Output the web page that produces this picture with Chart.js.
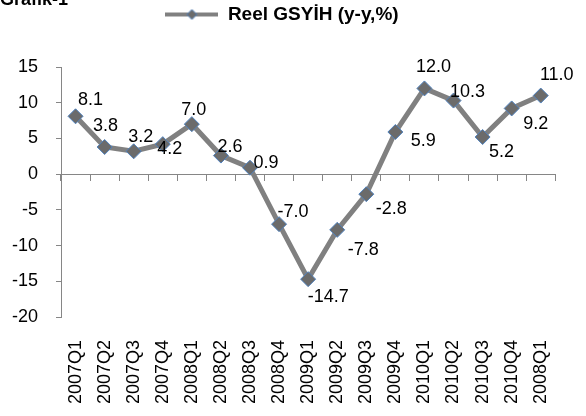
<!DOCTYPE html>
<html>
<head>
<meta charset="utf-8">
<title>Grafik-1</title>
<script src="https://cdn.jsdelivr.net/npm/chart.js@4/dist/chart.umd.min.js"></script>
<style>
  html, body { margin: 0; padding: 0; background: #fff; }
  #wrap { width: 586px; height: 416px; }
</style>
</head>
<body>
<div id="wrap"><canvas id="gdpChart" width="586" height="416"></canvas></div>
<script>
// quarters and real GDP growth (y-y, %)
const quarters = ['2007Q1', '2007Q2', '2007Q3', '2007Q4', '2008Q1', '2008Q2', '2008Q3', '2008Q4',
  '2009Q1', '2009Q2', '2009Q3', '2009Q4', '2010Q1', '2010Q2', '2010Q3', '2010Q4', '2008Q1'];
const gdpGrowth = [8.1, 3.8, 3.2, 4.2, 7.0, 2.6, 0.9, -7.0, -14.7, -7.8, -2.8, 5.9, 12.0, 10.3, 5.2, 9.2, 11.0];
const yTicks = [15, 10, 5, 0, -5, -10, -15, -20];
const seriesName = 'Reel GSYİH (y-y,%)';

// where each value label sits relative to its marker (px)
const labelOffsets = [[15, -16], [1, -21], [7, -14], [7, 5], [2, -14], [9, -9], [16, -5], [14, -12],
  [20, 18], [26, 20], [25, 15], [28, 9], [9, -21], [14, -9], [19, 15], [24, 16], [16, -21]];

const FONT = "'Liberation Sans', Arial, sans-serif";
const AXIS_GREY = '#868686';

// legend sample: line with a diamond on it
const legendIcon = document.createElement('canvas');
legendIcon.width = 53;
legendIcon.height = 14;
(function () {
  const c = legendIcon.getContext('2d');
  c.strokeStyle = '#808080';
  c.lineWidth = 4;
  c.beginPath();
  c.moveTo(0, 7);
  c.lineTo(53, 7);
  c.stroke();
  c.fillStyle = '#6b6b6b';
  c.strokeStyle = '#4f81bd';
  c.lineWidth = 1;
  c.beginPath();
  c.moveTo(26.5, 2);
  c.lineTo(31.5, 7);
  c.lineTo(26.5, 12);
  c.lineTo(21.5, 7);
  c.closePath();
  c.fill();
  c.stroke();
})();

const valueLabels = {
  id: 'valueLabels',
  afterDatasetsDraw(chart) {
    const ctx = chart.ctx;
    const meta = chart.getDatasetMeta(0);
    ctx.save();
    ctx.font = '18px ' + FONT;
    ctx.fillStyle = '#000';
    ctx.textAlign = 'center';
    ctx.textBaseline = 'middle';
    meta.data.forEach((pt, i) => {
      const off = labelOffsets[i] || [0, -14];
      ctx.fillText(gdpGrowth[i].toFixed(1), pt.x + off[0], pt.y + off[1]);
    });
    ctx.restore();
  }
};

const cornerTitle = {
  id: 'cornerTitle',
  afterDraw(chart) {
    const ctx = chart.ctx;
    ctx.save();
    ctx.font = 'bold 18px ' + FONT;
    ctx.fillStyle = '#000';
    ctx.textAlign = 'left';
    ctx.textBaseline = 'alphabetic';
    ctx.fillText('Grafik-1', 0, 5);
    ctx.restore();
  }
};

const legendHeight = {
  id: 'legendHeight',
  beforeInit(chart) {
    const fit = chart.legend.fit;
    chart.legend.fit = function () {
      fit.call(this);
      this.height = 67;
    };
  }
};

new Chart(document.getElementById('gdpChart'), {
  type: 'line',
  data: {
    labels: quarters,
    datasets: [{
      label: seriesName,
      data: gdpGrowth,
      borderColor: '#808080',
      borderWidth: 5,
      tension: 0,
      pointStyle: 'rectRot',
      pointRadius: 7.5,
      pointHoverRadius: 7.5,
      pointBackgroundColor: '#6b6b6b',
      pointBorderColor: '#4f81bd',
      pointBorderWidth: 1
    }]
  },
  options: {
    responsive: false,
    animation: false,
    layout: { padding: { left: 0, right: 22, top: 0, bottom: 0 } },
    plugins: {
      legend: {
        display: true,
        position: 'top',
        labels: {
          usePointStyle: true,
          pointStyle: legendIcon,
          pointStyleWidth: 53,
          padding: 5,
          color: '#000',
          font: { family: FONT, size: 19, weight: 'bold' }
        }
      },
      tooltip: { enabled: false }
    },
    scales: {
      x: {
        type: 'category',
        position: 'bottom',
        offset: true,
        grid: { display: false, drawTicks: false },
        border: { display: false },
        ticks: {
          minRotation: 90,
          maxRotation: 90,
          autoSkip: false,
          padding: 23,
          color: '#000',
          font: { family: FONT, size: 18 }
        },
        afterFit(scale) { scale.height = 99; }
      },
      x2: {
        type: 'category',
        axis: 'x',
        labels: quarters,
        position: { y: 0 },
        offset: true,
        grid: { offset: true, drawOnChartArea: false, drawTicks: true, tickLength: 6, color: AXIS_GREY },
        border: { display: true, color: AXIS_GREY, width: 1 },
        ticks: { display: false }
      },
      y: {
        min: -20,
        max: 15,
        afterBuildTicks(scale) { scale.ticks = yTicks.map(v => ({ value: v })); },
        grid: { drawOnChartArea: false, drawTicks: true, tickLength: 5, color: AXIS_GREY },
        border: { display: true, color: AXIS_GREY, width: 1 },
        ticks: {
          padding: 18,
          color: '#000',
          font: { family: FONT, size: 18 }
        },
        afterFit(scale) { scale.width = 61; }
      }
    }
  },
  plugins: [legendHeight, valueLabels, cornerTitle]
});
</script>
</body>
</html>
